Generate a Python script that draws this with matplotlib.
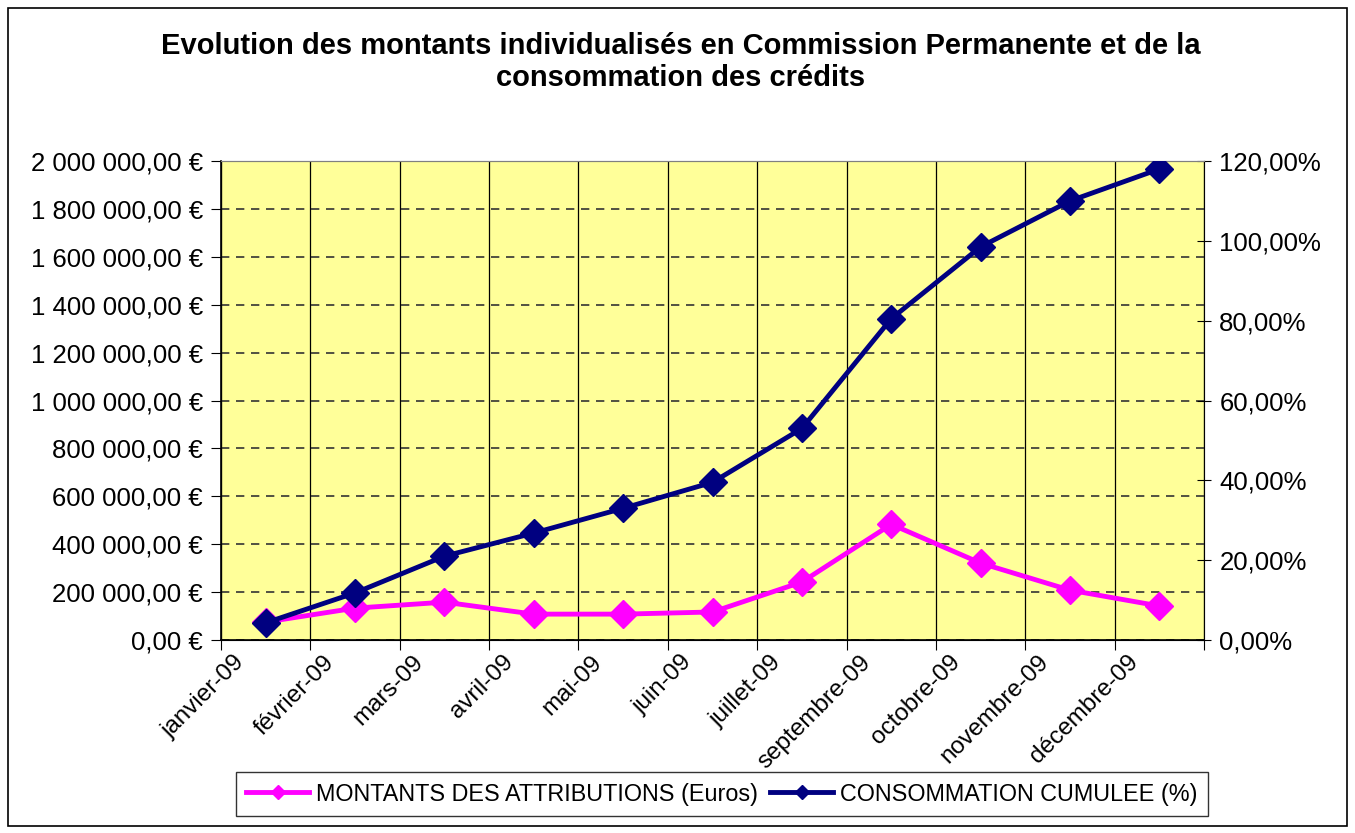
import numpy as np
import matplotlib
matplotlib.use("Agg")
import matplotlib.pyplot as plt
from matplotlib.ticker import FuncFormatter
from matplotlib.patches import Rectangle
from matplotlib.lines import Line2D
from matplotlib.transforms import ScaledTranslation

plt.rcParams['font.family'] = ['Liberation Sans', 'DejaVu Sans']

# Data
mois = ["janvier-09", "février-09", "mars-09", "avril-09", "mai-09", "juin-09",
        "juillet-09", "septembre-09", "octobre-09", "novembre-09", "décembre-09"]
montants = [75000, 133000, 158000, 108000, 108000, 117000,
            242000, 483000, 321000, 208000, 142000]
consommation = [4.3, 11.8, 21.0, 26.8, 33.0, 39.5,
                53.0, 80.5, 98.5, 110.0, 118.0]

fig = plt.figure(figsize=(13.55, 8.33), dpi=100)
ax = fig.add_axes([0.1631, 0.2317, 0.7255, 0.575])
ax2 = ax.twinx()

x = np.arange(len(mois))

ax.set_facecolor("#FFFF99")
ax.set_xlim(-0.5, len(mois) - 0.5)
ax.set_ylim(0, 2000000)
ax.set_yticks(np.arange(0, 2000001, 200000))
ax2.set_ylim(0, 120)
ax2.set_yticks(np.arange(0, 121, 20))


def euros(v, pos):
    return f"{v:,.2f}".replace(",", " ").replace(".", ",") + " €"


def pct(v, pos):
    return f"{v:.2f}%".replace(".", ",")


ax.yaxis.set_major_formatter(FuncFormatter(euros))
ax2.yaxis.set_major_formatter(FuncFormatter(pct))

# category boundaries as major ticks, labels on centers
ax.set_xticks(np.arange(-0.5, len(mois), 1))
ax.set_xticklabels([])
ax.set_xticks(x, minor=True)
ax.set_xticklabels(mois, minor=True, rotation=45, ha="right",
                   rotation_mode="anchor", fontsize=17.5)
ax.tick_params(axis="x", which="minor", length=0, pad=8)
ax.tick_params(axis="x", which="major", length=7, direction="out")
ax.tick_params(axis="y", labelsize=18.5, length=7, direction="out", pad=6)
ax2.tick_params(axis="y", labelsize=18.5, length=10, direction="inout", pad=6)

shift = ScaledTranslation(-0.32, 0, fig.dpi_scale_trans)
for lab in ax.get_xticklabels(minor=True):
    lab.set_transform(lab.get_transform() + shift)

ax.grid(axis="y", linestyle=(0, (5, 4)), color="#333333", linewidth=1.2)
ax.grid(axis="x", which="major", linestyle="-", color="black", linewidth=0.9)
ax.set_axisbelow(True)

for s in ["top", "right"]:
    ax.spines[s].set_color("#808080")
    ax2.spines[s].set_color("#808080")
ax2.spines["right"].set_color("black")
ax.spines["left"].set_linewidth(1.2)
ax.spines["bottom"].set_linewidth(1.2)

ax.plot(x, montants, color="#FF00FF", linewidth=3.5, marker="D",
        markersize=14, zorder=3)
ax2.plot(x, consommation, color="#000080", linewidth=3.5, marker="D",
         markersize=14, zorder=4)

fig.text(0.5026, 1 - 62 / 833,
         "Evolution des montants individualisés en Commission Permanente et de la\nconsommation des crédits",
         ha="center", va="center", fontsize=21, fontweight="bold", linespacing=1.2)

handles = [Line2D([], [], color="#FF00FF", linewidth=3.5, marker="D", markersize=7),
           Line2D([], [], color="#000080", linewidth=3.5, marker="D", markersize=7)]
leg = fig.legend(handles, ["MONTANTS DES ATTRIBUTIONS (Euros)", "CONSOMMATION CUMULEE (%)"],
                 loc="center", bbox_to_anchor=(722 / 1355, 1 - 794 / 833), ncol=2,
                 fontsize=16.8, frameon=True, fancybox=False, edgecolor="black",
                 handlelength=2.7, handletextpad=0.3, columnspacing=0.5,
                 borderpad=0.45, borderaxespad=0)
leg.get_frame().set_linewidth(1.0)

fig.patches.append(Rectangle((8 / 1355, 1 - 826 / 833), 1339 / 1355, 818 / 833,
                             transform=fig.transFigure, fill=False,
                             edgecolor="black", linewidth=1.2))

fig.savefig("out.png", dpi=100)
